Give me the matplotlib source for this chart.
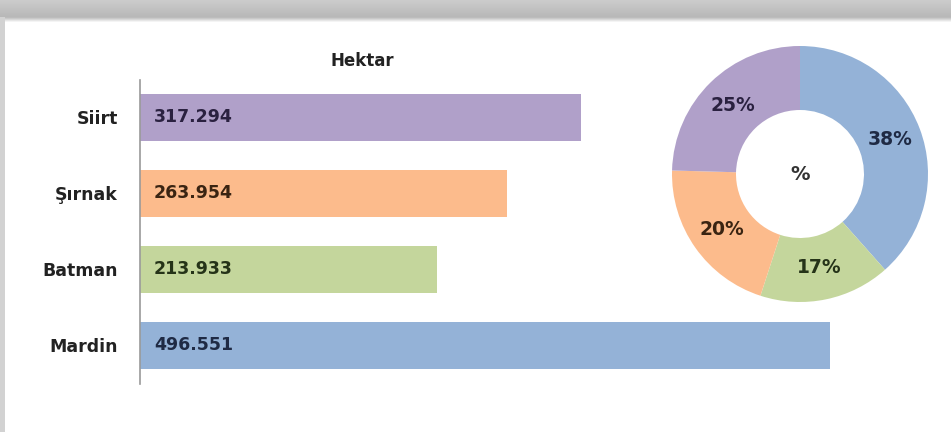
import numpy as np
import matplotlib
matplotlib.use("Agg")
import matplotlib.pyplot as plt

# Data
regions = ["Mardin", "Batman", "Şırnak", "Siirt"]
hectares = [496.551, 213.933, 263.954, 317.294]
bar_colors = ["#94b2d7", "#c4d69c", "#fcbb8c", "#b0a0c9"]
label_colors = ["#1f2a44", "#253318", "#3a2412", "#2a2140"]
bar_title = "Hektar"
donut_title = "%"

FONT = "DejaVu Sans"

W, H = 951, 432
fig = plt.figure(figsize=(W / 100, H / 100), dpi=100, facecolor="white")

# Frame: grey band at the top and a thin strip on the left
frame = fig.add_axes([0, 0, 1, 1], zorder=-5)
frame.set_xlim(0, W)
frame.set_ylim(H, 0)
frame.axis("off")
grad = np.linspace(0.80, 0.72, 50).reshape(-1, 1)
frame.imshow(np.repeat(grad, 10, axis=1), cmap="gray", vmin=0, vmax=1,
             extent=[0, W, 17, 0], aspect="auto")
frame.imshow(np.linspace(0.72, 0.97, 10).reshape(-1, 1).repeat(10, axis=1),
             cmap="gray", vmin=0, vmax=1, extent=[0, W, 22, 17], aspect="auto")
frame.add_patch(plt.Rectangle((0, 17), 5, H - 17, color="#d2d2d2", lw=0))

# Horizontal bar chart
x0, x1 = 140, 940
y_top, y_bot = 79.5, 383.5
scale = 1.39  # pixels per hectare unit
ax = fig.add_axes([x0 / W, 1 - y_bot / H, (x1 - x0) / W, (y_bot - y_top) / H])
ax.set_xlim(0, (x1 - x0) / scale)
ax.set_ylim(-0.5, len(regions) - 0.5)
ypos = np.arange(len(regions))
ax.barh(ypos, hectares, height=0.62, color=bar_colors, edgecolor="none")
for y, v, c in zip(ypos, hectares, label_colors):
    ax.text(10, y, f"{v:.3f}", ha="left", va="center", fontsize=12.5,
            fontweight="bold", color=c, family=FONT)
ax.set_yticks(ypos)
ax.set_yticklabels(regions, fontsize=12.5, fontweight="bold", family=FONT,
                   color="#222222")
ax.tick_params(axis="y", length=0, pad=16)
ax.set_xticks([])
for s in ["top", "right", "bottom"]:
    ax.spines[s].set_visible(False)
ax.spines["left"].set_color("#9a9a9a")
ax.spines["left"].set_linewidth(1.2)
ax.set_facecolor("none")
fig.text(362 / W, 1 - 61 / H, bar_title, ha="center", va="center", fontsize=12,
         fontweight="bold", family=FONT, color="#222222")

# Donut chart of shares
cx, cy, R = 800, 174, 128
dax = fig.add_axes([(cx - R) / W, 1 - (cy + R) / H, 2 * R / W, 2 * R / H])
wedges, _, autotexts = dax.pie(
    hectares, colors=bar_colors, startangle=90, counterclock=False,
    radius=1.0, autopct=lambda p: f"{p:.0f}%", pctdistance=0.75,
    wedgeprops=dict(width=0.5, edgecolor="none", linewidth=0),
    textprops=dict(fontsize=13.5, fontweight="bold", family=FONT))
for t, c in zip(autotexts, label_colors):
    t.set_color(c)
dax.text(0, 0, donut_title, ha="center", va="center", fontsize=14,
         fontweight="bold", family=FONT, color="#333333")
dax.set_xlim(-1, 1)
dax.set_ylim(-1, 1)
dax.set_aspect("auto")
dax.axis("off")

fig.savefig("out.png", dpi=100, facecolor="white")
